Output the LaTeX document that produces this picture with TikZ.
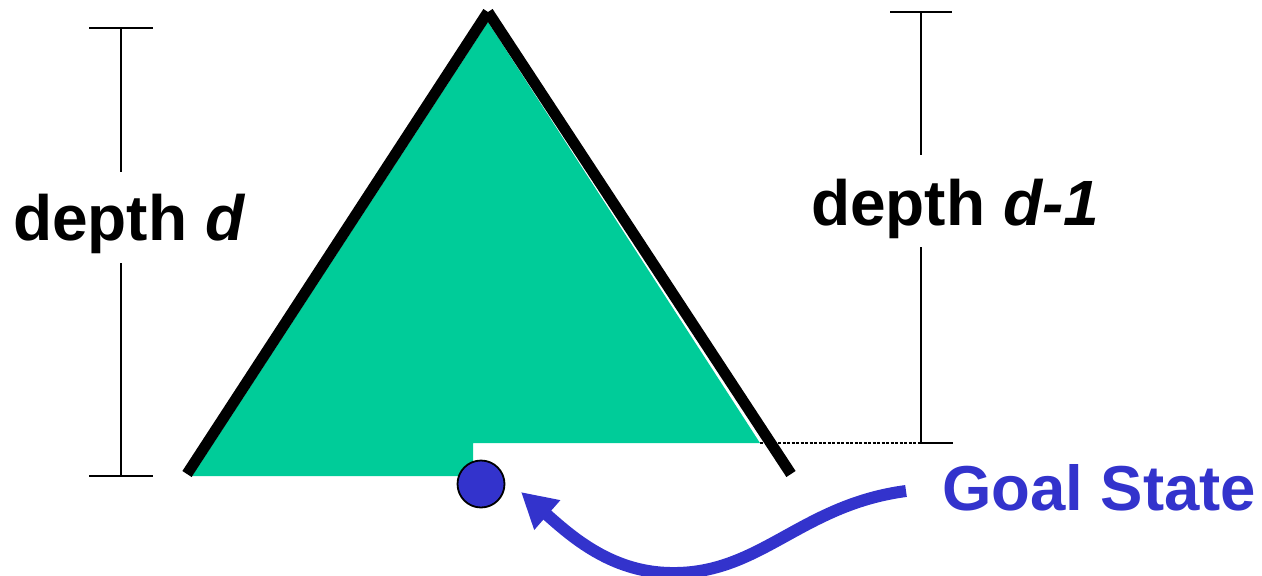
\documentclass[tikz,border=0pt]{standalone}
\usepackage{fontspec}
\setmainfont{Liberation Sans}
\usetikzlibrary{arrows.meta}
\definecolor{treegreen}{HTML}{00CC99}
\definecolor{goalblue}{HTML}{3333CC}
\tikzset{
  edgeline/.style={line width=11pt, line cap=butt},
  dimline/.style={line width=2pt},
  dimlabel/.style={font=\fontsize{64}{72}\selectfont\bfseries, inner sep=0pt, anchor=base west},
  goalnode/.style={circle, fill=goalblue, draw=black, line width=1.8pt, minimum size=47pt, inner sep=0pt},
  goalarrow/.style={draw=goalblue, line width=12pt, -{Triangle[length=35pt,width=37pt]}}
}
\begin{document}
\begin{tikzpicture}[x=1pt,y=-1pt]
\useasboundingbox (0,0) rectangle (1262,576);
% fill
\fill[treegreen] (488,22) -- (192,476) -- (473,476) -- (473,443) -- (760,443) -- cycle;
% tree edges
\coordinate (apex) at (488,12);
\coordinate (lfoot) at (187,474);
\coordinate (rfoot) at (791,474);
\draw[edgeline] (apex) -- (lfoot);
\draw[edgeline] (apex) -- (rfoot);
% left dimension
\coordinate (lt1) at (89,28);
\coordinate (lt2) at (153,28);
\coordinate (lb1) at (89,476);
\coordinate (lb2) at (153,476);
\coordinate (lvtop) at (121,28);
\coordinate (lvbot) at (121,476);
\coordinate (lgap1) at (121,172);
\coordinate (lgap2) at (121,263);
\draw[dimline] (lt1) -- (lt2);
\draw[dimline] (lb1) -- (lb2);
\draw[dimline] (lvtop) -- (lgap1);
\draw[dimline] (lgap2) -- (lvbot);
\node[dimlabel] (ldepth) at (13,240) {depth \textit{d}};
% right dimension
\coordinate (rt1) at (890,12);
\coordinate (rt2) at (952,12);
\coordinate (rvtop) at (921,12);
\coordinate (rvbot) at (921,443);
\coordinate (rgap1) at (921,155);
\coordinate (rgap2) at (921,247);
\coordinate (dotstart) at (760,443);
\coordinate (rb2) at (953,443);
\draw[dimline] (rt1) -- (rt2);
\draw[dimline] (rvtop) -- (rgap1);
\draw[dimline] (rgap2) -- (rvbot);
\draw[line width=2.5pt, dash pattern=on 3pt off 1.5pt] (dotstart) -- (rvbot);
\draw[dimline] (rvbot) -- (rb2);
\node[dimlabel] (rdepth) at (811,225) {depth \textit{d-1}};
% goal
\node[goalnode] (goal) at (481,484) {};
\node[dimlabel, font=\fontsize{63.5}{72}\selectfont\bfseries, text=goalblue] (goaltext) at (942,510) {Goal State};
\coordinate (arrstart) at (906,491);
\draw[goalarrow] (arrstart) .. controls (800,505) and (760,575) .. (670,573)
  .. controls (610,572) and (570,535) .. (521,492);
\end{tikzpicture}
\end{document}
